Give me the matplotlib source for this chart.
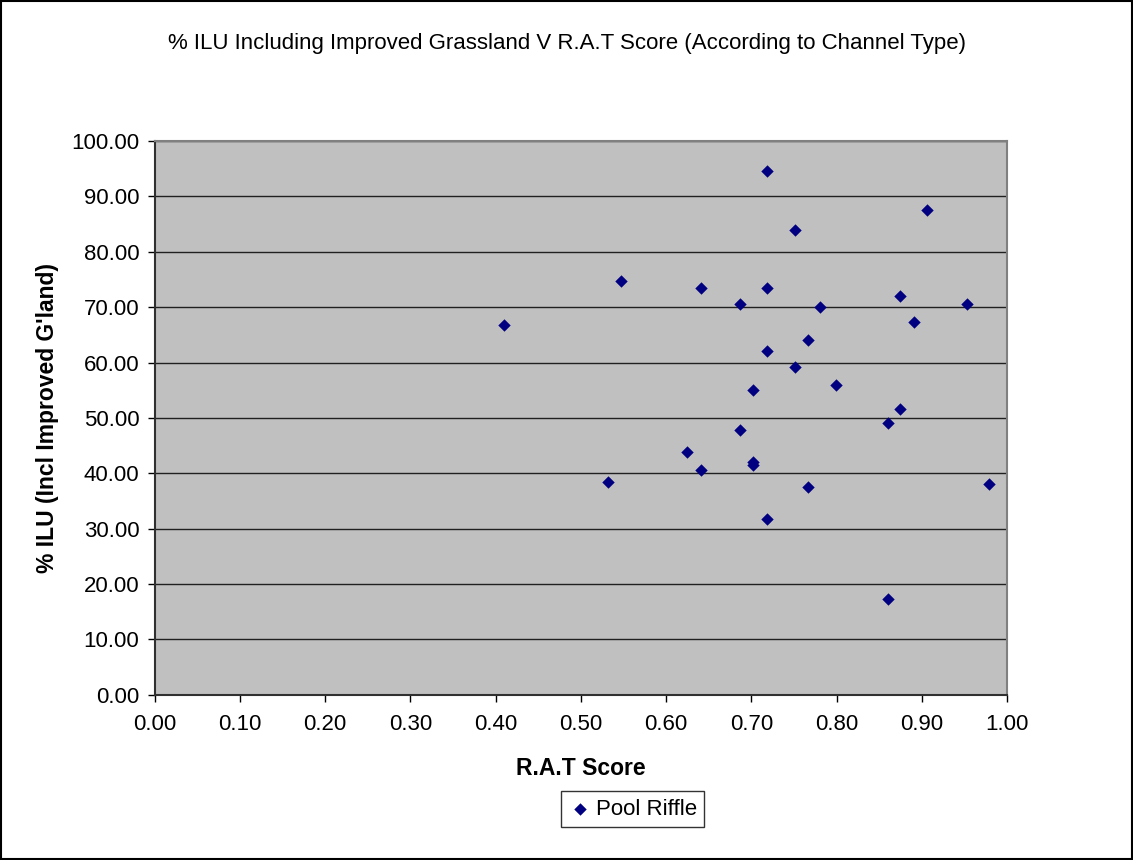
import matplotlib
matplotlib.use("Agg")
import matplotlib.pyplot as plt
from matplotlib.patches import Rectangle

plt.rcParams['font.family'] = ['Liberation Sans', 'DejaVu Sans']

rat_score = [0.719, 0.906, 0.751, 0.547, 0.641, 0.719, 0.687, 0.781, 0.875, 0.953,
             0.891, 0.766, 0.719, 0.751, 0.702, 0.799, 0.875, 0.860, 0.687, 0.625,
             0.641, 0.702, 0.702, 0.532, 0.766, 0.979, 0.719, 0.860, 0.410]
ilu_pct = [94.5, 87.6, 83.9, 74.7, 73.5, 73.5, 70.6, 70.0, 72.1, 70.6,
           67.4, 64.0, 62.0, 59.1, 55.1, 55.9, 51.6, 49.0, 47.9, 43.8,
           40.6, 42.1, 41.5, 38.4, 37.5, 38.1, 31.7, 17.3, 66.8]
x_ticks = [0.0, 0.1, 0.2, 0.3, 0.4, 0.5, 0.6, 0.7, 0.8, 0.9, 1.0]
y_ticks = [0, 10, 20, 30, 40, 50, 60, 70, 80, 90, 100]

fig = plt.figure(figsize=(11.33, 8.6), dpi=100)
fig.patches.append(Rectangle((0.001, 0.001), 0.998, 0.998, transform=fig.transFigure,
                             fill=False, edgecolor='black', linewidth=1.5))
ax = fig.add_axes([0.1365, 0.1922, 0.7523, 0.6438])
ax.set_facecolor('#C0C0C0')
ax.scatter(rat_score, ilu_pct, marker='D', s=40, color='#000080', label='Pool Riffle',
           zorder=3, linewidths=0)
ax.set_xlim(0, 1)
ax.set_ylim(0, 100)
ax.set_xticks(x_ticks)
ax.set_yticks(y_ticks)
ax.set_xticklabels([f"{v:.2f}" for v in x_ticks], fontsize=16)
ax.set_yticklabels([f"{v:.2f}" for v in y_ticks], fontsize=16)
ax.yaxis.grid(True, color='#202020', linewidth=1.0, zorder=1)
ax.set_axisbelow(True)
ax.tick_params(direction='out', length=5, width=1, color='black')
ax.tick_params(axis='x', pad=9)
ax.tick_params(axis='y', pad=6)
for s in ['top', 'right']:
    ax.spines[s].set_color('#808080')
    ax.spines[s].set_linewidth(1.5)
for s in ['left', 'bottom']:
    ax.spines[s].set_color('#303030')
    ax.spines[s].set_linewidth(1.5)
ax.set_xlabel('R.A.T Score', fontsize=16.5, fontweight='bold', labelpad=16)
ax.set_ylabel("% ILU (Incl Improved G'land)", fontsize=16.5, fontweight='bold', labelpad=9)
fig.text(0.5, 0.95, '% ILU Including Improved Grassland V R.A.T Score (According to Channel Type)',
         ha='center', va='center', fontsize=16)
leg = fig.legend(loc='center', bbox_to_anchor=(0.5585, 0.0593), fontsize=16, frameon=True,
                 fancybox=False, edgecolor='black', handletextpad=0.2, borderpad=0.35,
                 handlelength=1.0, markerscale=1.0)
leg.get_frame().set_linewidth(1.0)
fig.savefig('out.png', dpi=100)
